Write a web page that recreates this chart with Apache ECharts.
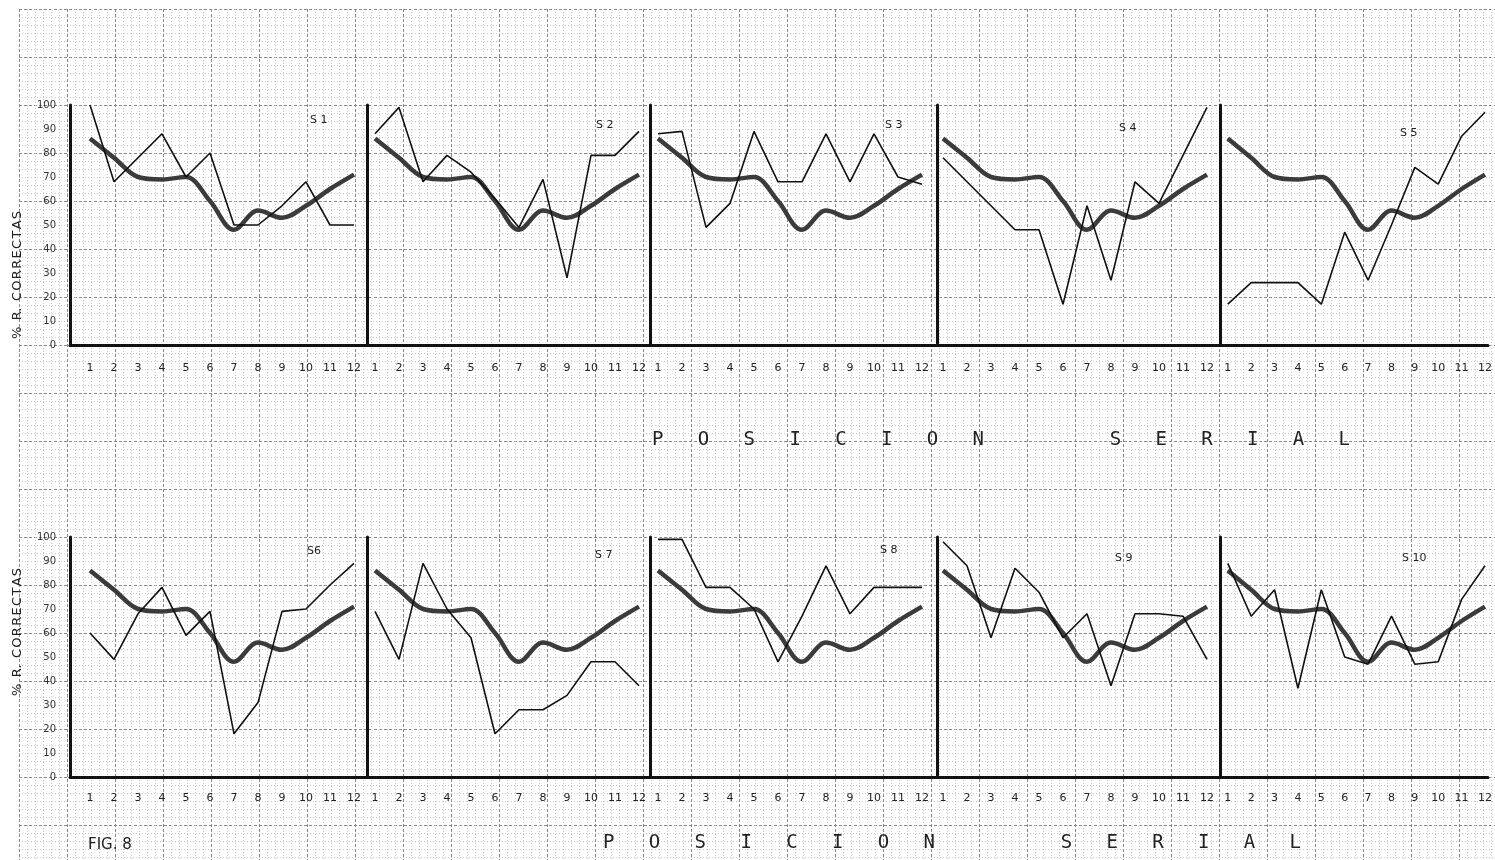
<!DOCTYPE html>
<html>
<head>
<meta charset="utf-8">
<script src="https://cdn.jsdelivr.net/npm/echarts@6/dist/echarts.min.js"></script>
<style>
html,body{margin:0;padding:0;background:#fff;}
#chart{width:1495px;height:860px;}
</style>
</head>
<body>
<div id="chart"></div>
<script>
// ---------- data ----------
const xTicks = ['1','2','3','4','5','6','7','8','9','10','11','12'];
const yTicks = [0,10,20,30,40,50,60,70,80,90,100];
const panelNames = ['S 1','S 2','S 3','S 4','S 5','S6','S 7','S 8','S 9','S 10'];
// group mean curve (thick line), same in every panel
const meanCurve = [86, 78, 70, 69, 70, 60, 48, 56, 53, 58, 65, 71];
// individual subjects (thin line)
const s1  = [100, 68, 78, 88, 70, 80, 50, 50, 58, 68, 50, 50];
const s2  = [88, 99, 68, 79, 72, 61, 49, 69, 28, 79, 79, 89];
const s3  = [88, 89, 49, 59, 89, 68, 68, 88, 68, 88, 70, 67];
const s4  = [78, 68, 58, 48, 48, 17, 58, 27, 68, 59, 79, 99];
const s5  = [17, 26, 26, 26, 17, 47, 27, 50, 74, 67, 87, 97];
const s6  = [60, 49, 68, 79, 59, 69, 18, 31, 69, 70, 80, 89];
const s7  = [69, 49, 89, 70, 58, 18, 28, 28, 34, 48, 48, 38];
const s8  = [99, 99, 79, 79, 70, 48, 67, 88, 68, 79, 79, 79];
const s9  = [98, 88, 58, 87, 77, 58, 68, 38, 68, 68, 67, 49];
const s10 = [89, 67, 78, 37, 78, 50, 47, 67, 47, 48, 74, 88];
const subjects = [s1, s2, s3, s4, s5, s6, s7, s8, s9, s10];

// ---------- layout ----------
const UNIT = 24; // px per serial position
const cols = [
  {left: 70,   first: 90,   right: 367},
  {left: 367,  first: 375,  right: 653},
  {left: 650,  first: 658,  right: 937},
  {left: 937,  first: 943,  right: 1220},
  {left: 1220, first: 1228, right: 1495}
];
const rows = [{top: 105, lblMargin: 18}, {top: 537, lblMargin: 16}];
const PH = 240;
const labelPos = [[318,122],[604,127],[893,127],[1127,130],[1408,135],[315,553],[603,557],[888,552],[1123,560],[1410,560]];

const grids = [], xAxes = [], yAxes = [], series = [];
// background graph paper
grids.push({left: 19, top: 9, width: 1476, height: 851, z: 0});
xAxes.push({gridIndex: 0, type: 'value', min: 0, max: 1476, interval: 48,
  axisLine: {show: false}, axisTick: {show: false}, axisLabel: {show: false},
  minorTick: {show: false, splitNumber: 6},
  splitLine: {show: true, lineStyle: {color: '#8a8a8a', type: [3, 2], width: 1}},
  minorSplitLine: {show: true, lineStyle: {color: '#c8c8c8', type: [1, 2], width: 1}}});
yAxes.push({gridIndex: 0, type: 'value', min: 0, max: 851, interval: 48, inverse: true,
  axisLine: {show: false}, axisTick: {show: false}, axisLabel: {show: false},
  minorTick: {show: false, splitNumber: 6},
  splitLine: {show: true, lineStyle: {color: '#8a8a8a', type: [3, 2], width: 1}},
  minorSplitLine: {show: true, lineStyle: {color: '#c8c8c8', type: [1, 2], width: 1}}});

const graphics = [];
for (let i = 0; i < 10; i++) {
  const r = Math.floor(i / 5), c = i % 5;
  const col = cols[c], row = rows[r];
  const gi = i + 1;
  const w = col.right - col.left;
  const xmin = 1 - (col.first - col.left) / UNIT;
  grids.push({left: col.left, top: row.top, width: w, height: PH});
  xAxes.push({gridIndex: gi, type: 'value', min: xmin, max: xmin + w / UNIT,
    axisLine: {show: true, lineStyle: {color: '#111', width: 3}},
    axisTick: {show: false}, splitLine: {show: false},
    axisLabel: {show: true, customValues: xTicks.map((t, k) => k + 1),
      formatter: v => xTicks[Math.round(v) - 1], margin: row.lblMargin,
      fontFamily: 'DejaVu Sans', fontSize: 11, color: '#222'}});
  yAxes.push({gridIndex: gi, type: 'value', min: 0, max: 100, interval: 10,
    axisLine: {show: true, lineStyle: {color: '#111', width: 3}},
    axisTick: {show: false}, splitLine: {show: false},
    axisLabel: {show: c === 0, margin: 14, fontFamily: 'DejaVu Sans', fontSize: 10, color: '#333',
      formatter: v => String(yTicks[Math.round(v / 10)])}});
  series.push({type: 'line', xAxisIndex: gi, yAxisIndex: gi, smooth: 0.35, symbol: 'none',
    lineStyle: {color: '#3b3b3b', width: 4.5}, z: 3,
    data: meanCurve.map((v, k) => [k + 1, v])});
  series.push({type: 'line', xAxisIndex: gi, yAxisIndex: gi, symbol: 'none',
    lineStyle: {color: '#111', width: 1.6}, z: 4,
    data: subjects[i].map((v, k) => [k + 1, v])});
  graphics.push({type: 'text', left: labelPos[i][0] - 8, top: labelPos[i][1] - 7, z: 10,
    style: {text: panelNames[i], font: '11px DejaVu Sans', fill: '#222'}});
}

// axis titles and captions
const serialText = 'P   O   S   I   C   I   O   N           S   E   R   I   A   L';
graphics.push({type: 'text', x: 1001, y: 440, z: 10,
  style: {text: serialText, font: '19px DejaVu Sans Mono', fill: '#222', align: 'center', verticalAlign: 'middle'}});
graphics.push({type: 'text', x: 952, y: 843, z: 10,
  style: {text: serialText, font: '19px DejaVu Sans Mono', fill: '#222', align: 'center', verticalAlign: 'middle'}});
const yTitle = '%\u2002R.\u2002C\u200AO\u200AR\u200AR\u200AE\u200AC\u200AT\u200AA\u200AS';
graphics.push({type: 'text', x: 18, y: 275, rotation: Math.PI / 2, z: 10,
  style: {text: yTitle, font: '13px DejaVu Sans', fill: '#222', align: 'center', verticalAlign: 'middle'}});
graphics.push({type: 'text', x: 18, y: 632, rotation: Math.PI / 2, z: 10,
  style: {text: yTitle, font: '13px DejaVu Sans', fill: '#222', align: 'center', verticalAlign: 'middle'}});
graphics.push({type: 'text', x: 88, y: 845, z: 10,
  style: {text: 'FIG. 8', font: '15px DejaVu Sans', fill: '#222', verticalAlign: 'middle'}});

const chart = echarts.init(document.getElementById('chart'), null, {renderer: 'canvas'});
chart.setOption({
  animation: false,
  backgroundColor: '#fff',
  grid: grids, xAxis: xAxes, yAxis: yAxes, series: series, graphic: graphics
});
</script>
</body>
</html>
